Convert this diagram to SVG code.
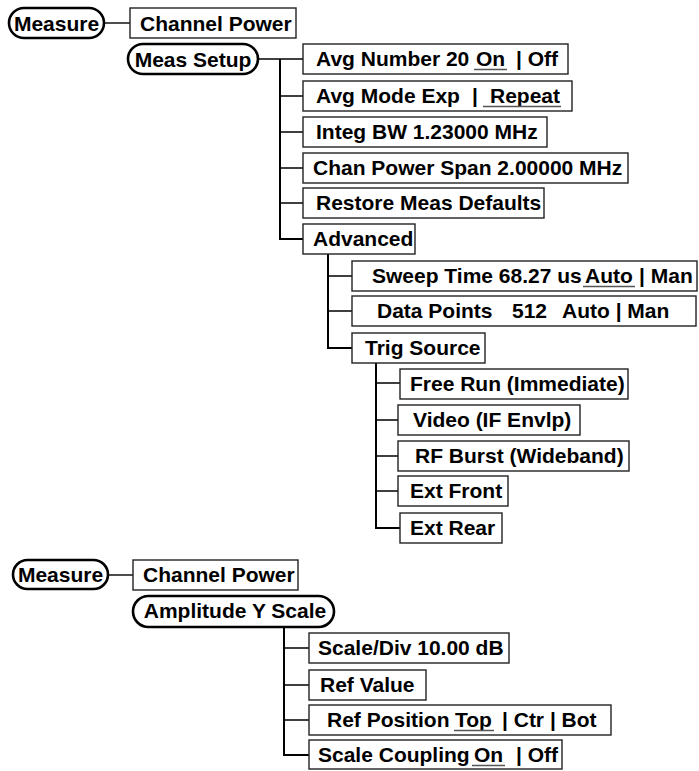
<svg xmlns="http://www.w3.org/2000/svg" width="699" height="771" viewBox="0 0 699 771">
<style>
text{font-family:"Liberation Sans",Arial,sans-serif;font-weight:bold;font-size:21px;fill:#000}
.box{fill:#fff;stroke:#222;stroke-width:1.4}
.oval{fill:#fff;stroke:#000;stroke-width:2.6}
.c{text-anchor:middle}
.ln{stroke:#000;stroke-width:1.4;fill:none}
.vl{stroke:#000;stroke-width:2;fill:none}
.ul{stroke:#555;stroke-width:1.6}
</style>
<rect width="699" height="771" fill="#fff"/>
<g id="connectors">
<line class="ln" x1="104" y1="23" x2="130" y2="23"/>
<line class="ln" x1="258" y1="59" x2="303" y2="59"/>
<path class="vl" d="M280 59V239H303"/>
<path class="ln" d="M280 96H303M280 132H303M280 168H303M280 203H303"/>
<path class="vl" d="M328 254V348H352"/>
<path class="ln" d="M328 276H352M328 311H352"/>
<path class="vl" d="M376 363V528H400"/>
<path class="ln" d="M376 383H400M376 420H398M376 456H398M376 491H398"/>
<line class="ln" x1="108" y1="575" x2="133" y2="575"/>
<path class="vl" d="M284 627V755H309"/>
<path class="ln" d="M284 648H309M284 685H309M284 720H309"/>
</g>
<g id="measure1"><rect class="oval" x="9" y="8" width="95" height="30" rx="15"/><text class="c" x="56.5" y="30.5">Measure</text></g>
<g id="channel-power1"><rect class="box" x="130" y="8" width="166" height="30"/><text x="140" y="30.5">Channel Power</text></g>
<g id="meas-setup"><rect class="oval" x="128" y="44" width="130" height="30" rx="15"/><text class="c" x="193" y="66.5">Meas Setup</text></g>
<g id="avg-number"><rect class="box" x="303" y="44" width="265" height="30"/><text x="316" y="66">Avg Number 20 <tspan x="476">On</tspan><tspan x="516">| Off</tspan></text><line class="ul" x1="474" y1="69.5" x2="507" y2="69.5"/></g>
<g id="avg-mode"><rect class="box" x="303" y="81" width="269" height="30"/><text x="316" y="103">Avg Mode Exp <tspan x="472">|</tspan><tspan x="490">Repeat</tspan></text><line class="ul" x1="483" y1="106.5" x2="561" y2="106.5"/></g>
<g id="integ-bw"><rect class="box" x="303" y="117" width="244" height="30"/><text x="316" y="139">Integ BW 1.23000 MHz</text></g>
<g id="chan-power-span"><rect class="box" x="303" y="153" width="325" height="30"/><text x="313" y="175">Chan Power Span 2.00000 MHz</text></g>
<g id="restore"><rect class="box" x="303" y="188" width="241" height="30"/><text x="316" y="210">Restore Meas Defaults</text></g>
<g id="advanced"><rect class="box" x="303" y="224" width="112" height="30"/><text x="313" y="246">Advanced</text></g>
<g id="sweep-time"><rect class="box" x="352" y="261" width="345" height="30"/><text x="372" y="283">Sweep Time 68.27 us<tspan x="585">Auto</tspan><tspan x="639">| Man</tspan></text><line class="ul" x1="583" y1="286.5" x2="635" y2="286.5"/></g>
<g id="data-points"><rect class="box" x="352" y="296" width="344" height="30"/><text x="377" y="318">Data Points<tspan x="512">512</tspan><tspan x="562">Auto | Man</tspan></text></g>
<g id="trig-source"><rect class="box" x="352" y="333" width="133" height="30"/><text x="365" y="355">Trig Source</text></g>
<g id="free-run"><rect class="box" x="400" y="369" width="228" height="30"/><text x="410" y="391">Free Run (Immediate)</text></g>
<g id="video"><rect class="box" x="398" y="405" width="182" height="30"/><text x="413" y="427">Video (IF Envlp)</text></g>
<g id="rf-burst"><rect class="box" x="398" y="441" width="231" height="30"/><text x="415" y="463">RF Burst (Wideband)</text></g>
<g id="ext-front"><rect class="box" x="398" y="476" width="110" height="30"/><text x="410" y="498">Ext Front</text></g>
<g id="ext-rear"><rect class="box" x="400" y="513" width="102" height="30"/><text x="410" y="535">Ext Rear</text></g>
<g id="measure2"><rect class="oval" x="13" y="560" width="95" height="29" rx="14.5"/><text class="c" x="60.5" y="582">Measure</text></g>
<g id="channel-power2"><rect class="box" x="133" y="560" width="165" height="30"/><text x="143" y="582">Channel Power</text></g>
<g id="amplitude"><rect class="oval" x="133" y="596" width="201" height="31" rx="15.5"/><text class="c" x="235" y="618">Amplitude Y Scale</text></g>
<g id="scale-div"><rect class="box" x="309" y="633" width="200" height="30"/><text x="318" y="655">Scale/Div 10.00 dB</text></g>
<g id="ref-value"><rect class="box" x="309" y="670" width="117" height="30"/><text x="320" y="692">Ref Value</text></g>
<g id="ref-position"><rect class="box" x="309" y="705" width="302" height="30"/><text x="327" y="727">Ref Position <tspan x="455">Top</tspan><tspan x="502">| Ctr | Bot</tspan></text><line class="ul" x1="454" y1="730.5" x2="494" y2="730.5"/></g>
<g id="scale-coupling"><rect class="box" x="309" y="740" width="253" height="29"/><text x="318" y="762">Scale Coupling<tspan x="474">On</tspan><tspan x="516">| Off</tspan></text><line class="ul" x1="472" y1="765.5" x2="505" y2="765.5"/></g>
</svg>
